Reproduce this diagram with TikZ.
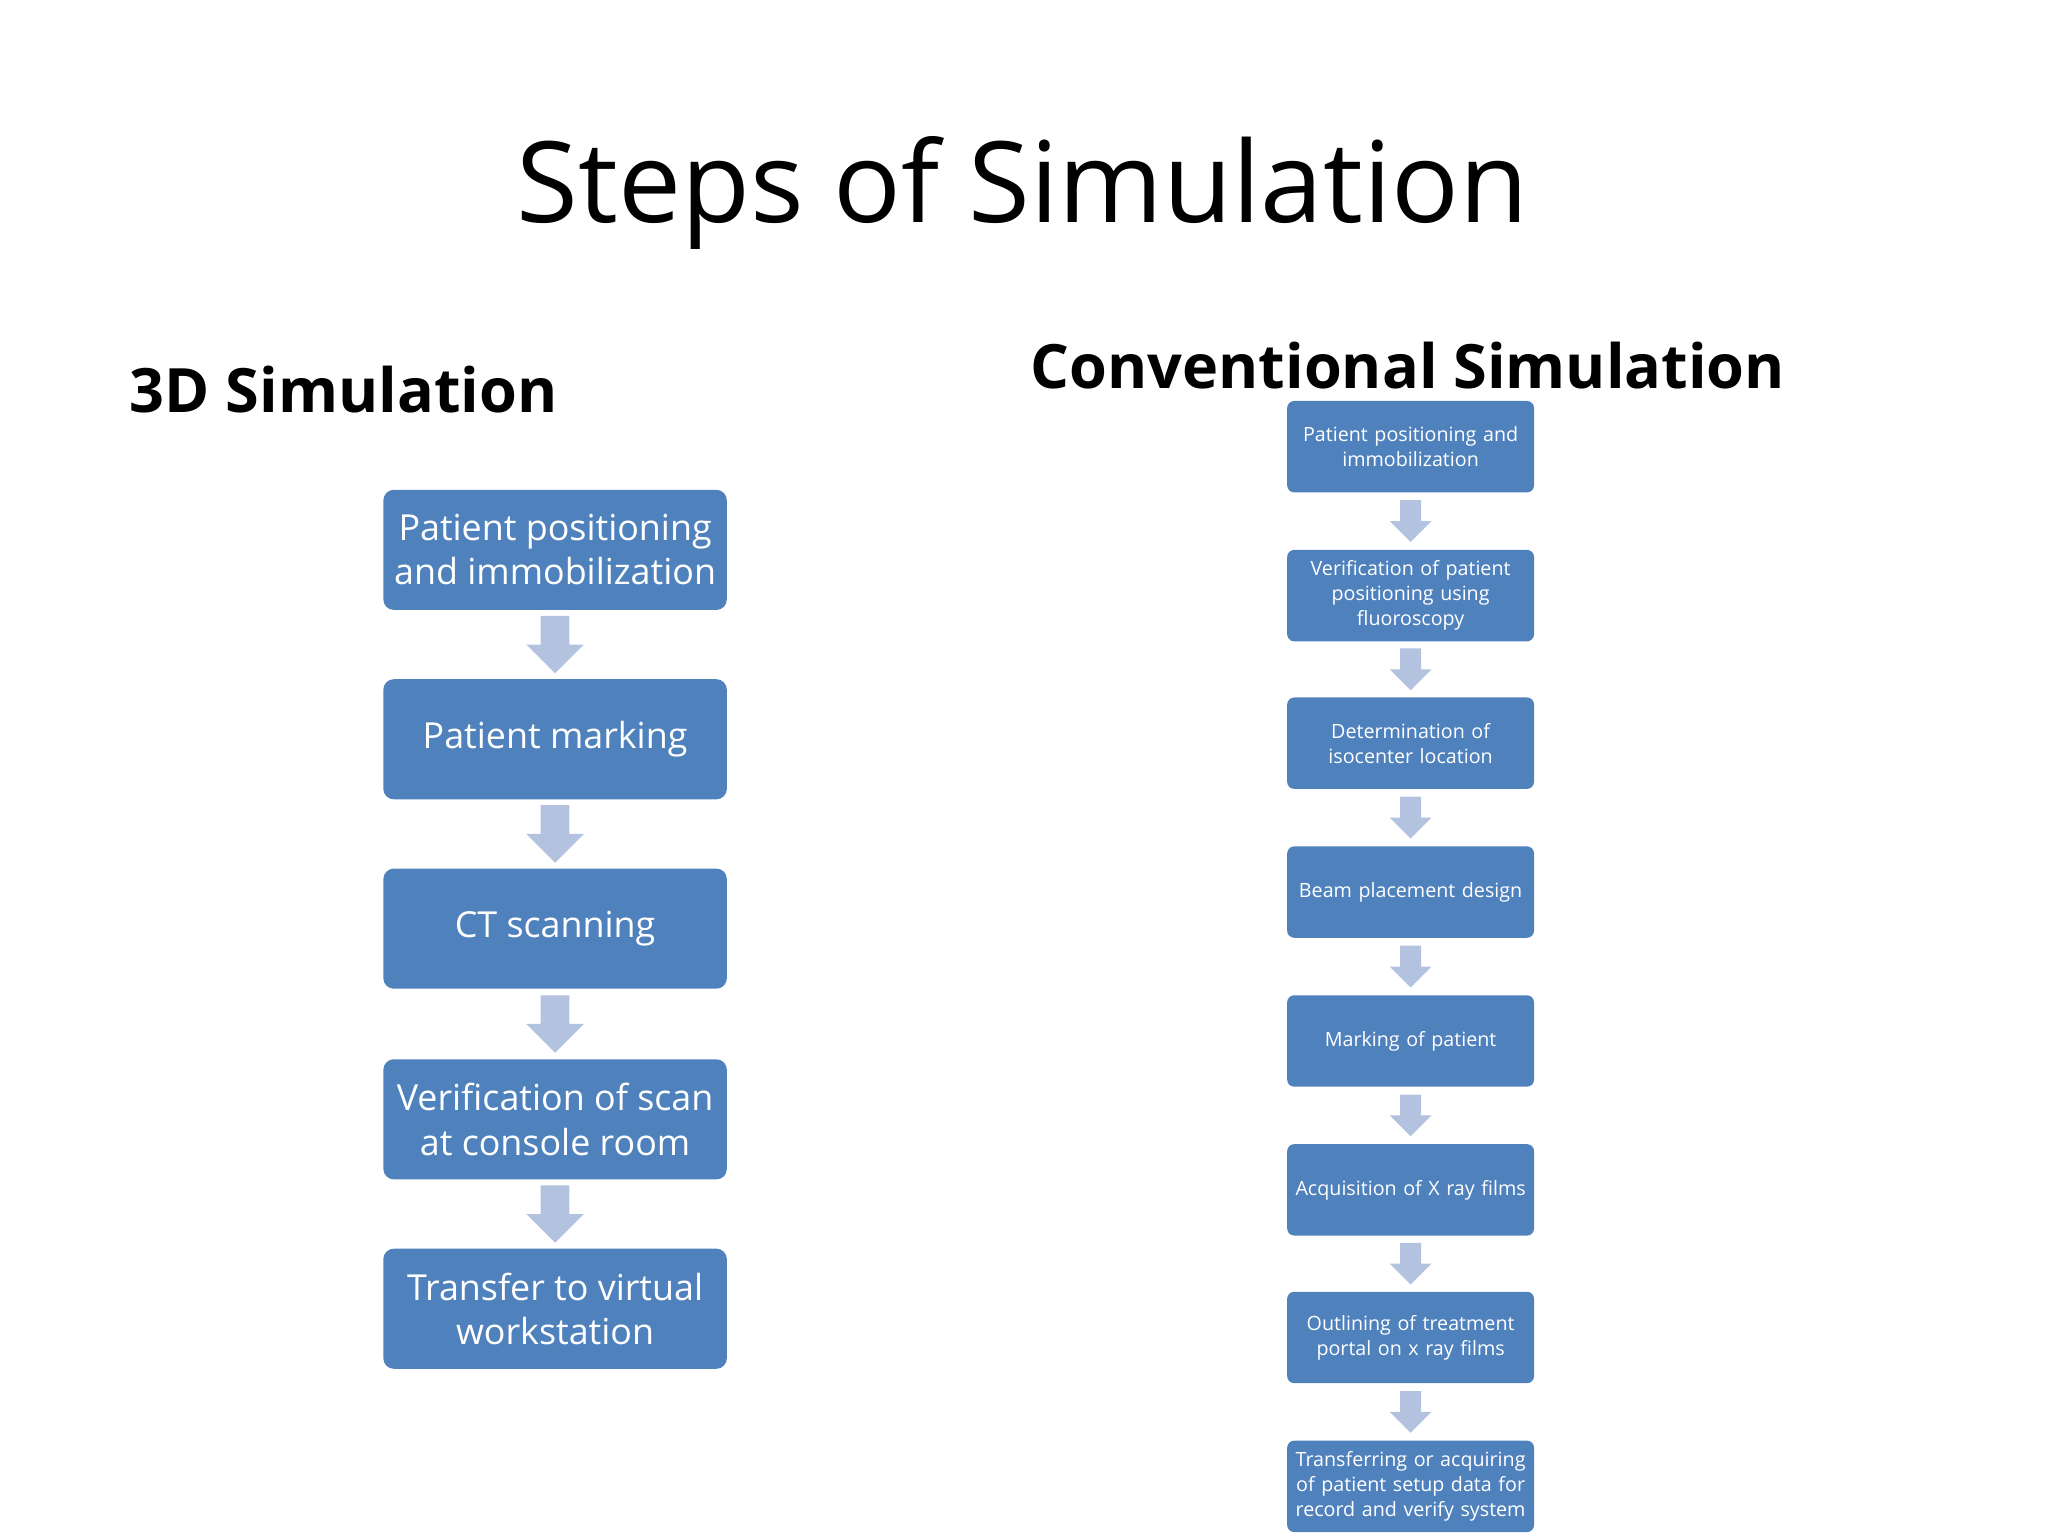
\documentclass[tikz,border=0pt]{standalone}
\usepackage{fontspec}
\setmainfont{Open Sans}
\usetikzlibrary{calc}
\definecolor{boxblue}{HTML}{4F81BD}
\definecolor{arrblue}{HTML}{B3C2DF}
\begin{document}
\begin{tikzpicture}[x=0.01306cm,y=-0.01306cm,
  bigbox/.style={fill=boxblue,rounded corners=3pt,text=white,minimum width=263*0.01306cm,minimum height=92*0.01306cm,align=center,font=\fontsize{10.2}{12.6}\selectfont,inner sep=1pt},
  smallbox/.style={fill=boxblue,rounded corners=2pt,text=white,minimum width=189*0.01306cm,minimum height=70*0.01306cm,align=center,font=\fontsize{5.6}{7.05}\selectfont,inner sep=1pt,text width=182*0.01306cm},
  pics/downarr/.style={code={\fill[arrblue] (-#1*0.25,-#1*0.5) -- (#1*0.25,-#1*0.5) -- (#1*0.25,0) -- (#1*0.5,0) -- (0,#1*0.5) -- (-#1*0.5,0) -- (-#1*0.25,0) -- cycle;}}]
\useasboundingbox (0,0) rectangle (1568,1176);
\node (title) at (783,148) {\fontsize{32}{38}\selectfont Steps of Simulation};
\node[anchor=west] (t1) at (90,298) {\fontsize{17.4}{21}\selectfont\bfseries 3D Simulation};
\node (t2) at (1078,280) {\fontsize{17.4}{21}\selectfont\bfseries Conventional Simulation};
\node[bigbox] (a1) at (425,421) {Patient positioning\\and immobilization};
\node[bigbox] (a2) at (425,566) {Patient marking};
\node[bigbox] (a3) at (425,711) {CT scanning};
\node[bigbox] (a4) at (425,857) {Verification of scan\\at console room};
\node[bigbox] (a5) at (425,1002) {Transfer to virtual\\workstation};
\foreach \i/\j in {a1/a2,a2/a3,a3/a4,a4/a5}
  \path (\i.south) -- (\j.north) pic[midway]{downarr=44};
\node[smallbox] (b1) at (1080,342) {Patient positioning and\\immobilization};
\node[smallbox] (b2) at (1080,456) {Verification of patient\\positioning using\\fluoroscopy};
\node[smallbox] (b3) at (1080,569) {Determination of\\isocenter location};
\node[smallbox] (b4) at (1080,683) {Beam placement design};
\node[smallbox] (b5) at (1080,797) {Marking of patient};
\node[smallbox] (b6) at (1080,911) {Acquisition of X ray films};
\node[smallbox] (b7) at (1080,1024) {Outlining of treatment\\portal on x ray films};
\node[smallbox] (b8) at (1080,1138) {Transferring or acquiring\\of patient setup data for\\record and verify system};
\foreach \i/\j in {b1/b2,b2/b3,b3/b4,b4/b5,b5/b6,b6/b7,b7/b8}
  \path (\i.south) -- (\j.north) pic[midway]{downarr=32};
\end{tikzpicture}
\end{document}
